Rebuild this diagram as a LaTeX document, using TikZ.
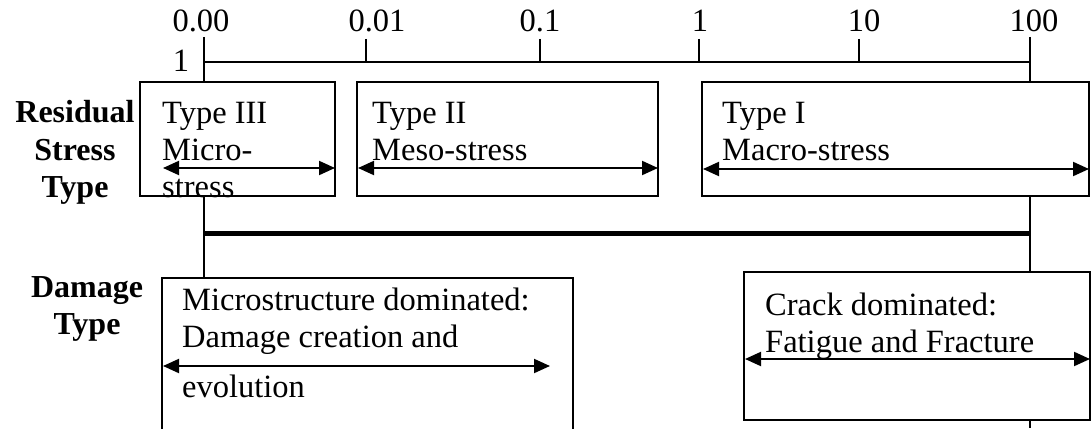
\documentclass[tikz,border=0pt]{standalone}
\usepackage{fontspec}
\setmainfont{Liberation Serif}
\usetikzlibrary{arrows.meta}
\begin{document}
\begin{tikzpicture}[x=1pt,y=-1pt,
  thin line/.style={line width=2pt},
  box/.style={draw,line width=2pt},
  dbl/.style={line width=2pt,{Triangle[length=16pt,width=14pt]}-{Triangle[length=16pt,width=14pt]}},
  txt/.style={anchor=base west,inner sep=0pt,font=\fontsize{32.5}{38}\selectfont},
  lab/.style={anchor=base,inner sep=0pt,font=\fontsize{32.5}{38}\selectfont},
  head/.style={anchor=base,inner sep=0pt,font=\fontsize{32}{38}\selectfont\bfseries}]
\useasboundingbox (0,0) rectangle (1091,428);
% axis
\coordinate (a0) at (204,62);
\coordinate (a5) at (1030,62);
\draw[thin line] (a0) -- (a5);
\draw[thin line] (204,37) -- (204,82);
\draw[thin line] (366,39) -- (366,62);
\draw[thin line] (540,39) -- (540,62);
\draw[thin line] (699,39) -- (699,62);
\draw[thin line] (859,39) -- (859,62);
\draw[thin line] (1030,37) -- (1030,82);
\node[lab] (l0) at (201,32) {0.00};
\node[lab] (l0b) at (181,71) {1};
\node[lab] (l1) at (377,32) {0.01};
\node[lab] (l2) at (540,32) {0.1};
\node[lab] (l3) at (700,32) {1};
\node[lab] (l4) at (864,32) {10};
\node[lab] (l5) at (1034,32) {100};
% top boxes
\draw[box] (140,82) rectangle (335,196);
\draw[box] (357,82) rectangle (658,196);
\draw[box] (702,82) rectangle (1089,196);
\node[txt] (t3a) at (162,123) {Type III};
\node[txt] (t3b) at (162,160) {Micro-};
\node[txt] (t3c) at (162,197) {stress};
\node[txt] (t2a) at (372,123) {Type II};
\node[txt] (t2b) at (372,160) {Meso-stress};
\node[txt] (t1a) at (722,123) {Type I};
\node[txt] (t1b) at (722,160) {Macro-stress};
\coordinate (p3l) at (163,168); \coordinate (p3r) at (335,168);
\coordinate (p2l) at (358,168); \coordinate (p2r) at (658,168);
\coordinate (p1l) at (703,169); \coordinate (p1r) at (1089,169);
\draw[dbl] (p3l) -- (p3r);
\draw[dbl] (p2l) -- (p2r);
\draw[dbl] (p1l) -- (p1r);
% headings
\node[head] (h1) at (75,122) {Residual};
\node[head] (h2) at (75,160) {Stress};
\node[head] (h3) at (75,197) {Type};
\node[head] (h4) at (87,297) {Damage};
\node[head] (h5) at (87,334) {Type};
% connections
\coordinate (c1) at (204,196); \coordinate (c2) at (204,233);
\coordinate (c3) at (1030,233); \coordinate (c4) at (1030,196);
\draw[thin line] (c1) -- (c2);
\draw[thin line] (c4) -- (c3);
\draw[line width=5pt] (c2) -- (c3);
\draw[thin line] (c2) -- (204,278);
\draw[thin line] (c3) -- (1030,272);
\draw[thin line] (1030,420) -- (1030,428);
% bottom boxes
\draw[box] (162,430) -- (162,278) -- (573,278) -- (573,430);
\draw[box] (744,272) rectangle (1090,420);
\node[txt] (m1) at (182,310) {Microstructure dominated:};
\node[txt] (m2) at (182,347) {Damage creation and};
\node[txt] (m3) at (182,397) {evolution};
\node[txt] (k1) at (765,315) {Crack dominated:};
\node[txt] (k2) at (765,352) {Fatigue and Fracture};
\coordinate (q1l) at (163,366); \coordinate (q1r) at (550,366);
\coordinate (q2l) at (745,359); \coordinate (q2r) at (1090,359);
\draw[dbl] (q1l) -- (q1r);
\draw[dbl] (q2l) -- (q2r);
\end{tikzpicture}
\end{document}
